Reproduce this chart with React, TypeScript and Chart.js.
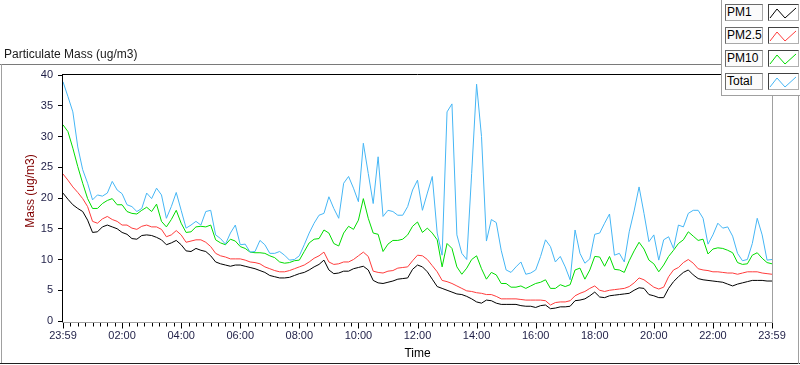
import React, { useEffect, useRef } from "react";
import { Chart, registerables } from "chart.js";

Chart.register(...registerables);

// ---- data (one sample every 10 minutes from 23:59) ----
const STEP_MIN = 10;

const pm1 = [
  20.8, 19.8, 18.9, 18.3, 17.8, 16.4, 14.4, 14.5, 15.3, 15.6,
  15.3, 15.0, 14.4, 14.1, 13.4, 13.3, 13.9, 14.0, 13.9, 13.6,
  13.2, 12.4, 12.7, 13.1, 12.4, 11.4, 11.3, 11.8, 11.5, 11.3,
  10.6, 9.6, 9.3, 9.1, 8.9, 9.1, 9.1, 8.9, 8.7, 8.5,
  8.2, 7.9, 7.4, 7.2, 7.0, 7.0, 7.1, 7.4, 7.7, 7.9,
  8.3, 8.8, 9.2, 9.9, 8.3, 7.7, 7.8, 8.1, 8.1, 8.5,
  8.7, 8.9, 8.3, 6.6, 6.2, 6.1, 6.3, 6.5, 6.8, 6.9,
  7.0, 8.4, 9.1, 8.8, 8.0, 6.8, 5.6, 5.3, 5.0, 4.7,
  4.4, 4.3, 4.0, 3.6, 3.1, 2.9, 3.4, 3.3, 2.9, 2.7,
  2.7, 2.7, 2.7, 2.5, 2.4, 2.4, 2.2, 2.5, 2.6, 2.0,
  2.1, 2.3, 2.3, 2.4, 3.3, 3.4, 3.6, 4.1, 4.7, 3.9,
  3.8, 4.1, 4.2, 4.3, 4.4, 4.5, 5.0, 5.4, 5.3, 4.3,
  4.1, 3.8, 3.8, 5.3, 6.4, 7.2, 7.9, 8.3, 7.5, 6.9,
  6.7, 6.6, 6.5, 6.4, 6.3, 6.0, 5.7, 6.0, 6.2, 6.4,
  6.6, 6.6, 6.6, 6.5, 6.5,
];

const pm25 = [
  23.9, 22.9, 21.8, 20.9, 19.9, 18.6, 16.2, 15.9, 16.6, 17.0,
  16.5, 16.2, 15.6, 15.6, 15.1, 14.9, 15.4, 15.6, 15.3, 15.3,
  14.9, 13.7, 14.0, 14.7, 14.0, 12.8, 13.0, 13.2, 13.2, 12.8,
  12.1, 11.0, 10.6, 10.4, 10.1, 10.1, 10.1, 9.9, 9.6, 9.5,
  9.3, 8.8, 8.5, 8.2, 8.0, 8.0, 8.2, 8.5, 8.8, 9.1,
  9.6, 10.2, 10.6, 11.2, 9.6, 9.2, 9.3, 9.6, 9.6, 10.0,
  10.6, 11.2, 10.5, 8.1, 7.9, 7.8, 8.1, 8.2, 8.6, 8.7,
  8.8, 9.8, 10.7, 10.6, 10.0, 9.0, 8.0, 6.6, 6.4, 6.1,
  5.7, 5.3, 4.9, 4.8, 4.6, 4.5, 4.3, 4.3, 4.0, 3.6,
  3.6, 3.6, 3.6, 3.5, 3.4, 3.4, 3.4, 3.4, 3.3, 2.6,
  3.0, 3.1, 3.1, 3.3, 4.1, 4.5, 4.8, 5.3, 5.7, 5.0,
  4.8, 5.0, 5.1, 5.2, 5.3, 5.6, 6.2, 7.0, 6.7, 6.1,
  5.5, 5.2, 5.5, 7.2, 8.3, 8.7, 9.5, 10.0, 9.4, 8.5,
  8.3, 8.2, 8.0, 8.0, 7.9, 7.8, 7.8, 7.6, 7.8, 8.0,
  8.0, 8.0, 7.8, 7.7, 7.6,
];

const pm10 = [
  31.9, 30.8, 28.1, 25.1, 22.4, 19.9, 18.3, 18.3, 19.1, 19.6,
  19.9, 18.9, 18.9, 17.8, 17.5, 17.4, 18.0, 18.5, 17.8, 19.0,
  16.2, 15.3, 16.5, 18.0, 15.9, 14.4, 14.5, 15.3, 15.4, 15.3,
  15.6, 13.2, 12.7, 12.4, 13.3, 13.0, 12.1, 11.8, 11.2, 11.1,
  11.1, 11.0, 10.6, 10.3, 9.6, 9.4, 9.5, 9.8, 9.9, 11.3,
  12.7, 13.3, 13.4, 14.8, 14.3, 12.6, 12.2, 14.3, 15.4, 14.9,
  16.4, 19.9, 16.7, 14.3, 14.1, 11.3, 12.5, 13.1, 13.1, 13.3,
  14.0, 15.4, 16.1, 14.4, 15.1, 14.3, 13.2, 8.8, 12.6, 11.8,
  8.8, 7.6, 8.6, 10.0, 10.6, 8.5, 6.8, 7.9, 7.5, 6.1,
  6.1, 5.5, 5.5, 5.7, 5.3, 5.7, 6.1, 6.3, 6.7, 5.3,
  5.3, 5.9, 5.6, 5.9, 8.3, 8.6, 6.8, 8.3, 10.5, 10.4,
  8.9, 10.5, 8.4, 8.3, 7.9, 9.8, 11.4, 12.8, 11.7, 9.9,
  9.3, 8.0, 9.1, 10.5, 11.5, 12.6, 13.2, 14.5, 13.8, 13.1,
  13.3, 10.9, 11.7, 11.9, 11.8, 11.5, 11.1, 9.5, 9.2, 9.3,
  10.7, 11.1, 10.2, 9.5, 9.3,
];

const total = [
  38.9, 36.5, 34.0, 28.3, 24.6, 22.4, 19.7, 20.5, 20.3, 20.8,
  22.7, 21.3, 20.7, 18.9, 18.6, 17.8, 18.3, 20.8, 19.9, 21.6,
  20.5, 16.7, 18.6, 20.9, 18.0, 15.1, 15.6, 16.2, 15.6, 17.8,
  18.0, 14.0, 13.4, 12.5, 14.3, 15.6, 12.4, 12.5, 11.2, 11.3,
  13.1, 12.4, 11.0, 11.0, 11.3, 10.7, 9.9, 10.0, 10.6, 12.4,
  14.3, 15.9, 17.2, 17.5, 20.2, 18.3, 16.7, 22.4, 23.5, 21.6,
  19.4, 28.9, 24.0, 19.1, 26.7, 17.0, 18.0, 17.8, 17.2, 17.2,
  18.6, 21.3, 22.9, 18.0, 20.8, 23.5, 14.3, 10.7, 34.0, 35.3,
  14.0, 11.0, 10.0, 24.0, 38.5, 30.0, 13.0, 16.5, 16.0, 11.5,
  8.3, 7.9, 8.8, 9.6, 7.6, 7.8, 8.3, 10.5, 13.2, 12.1,
  9.6, 10.5, 8.8, 6.7, 14.8, 11.0, 9.4, 10.1, 14.1, 14.3,
  15.9, 17.4, 10.7, 11.0, 9.6, 14.5, 17.9, 21.8, 17.5, 12.9,
  14.0, 9.9, 13.2, 13.7, 11.8, 15.6, 15.3, 17.5, 18.0, 18.0,
  16.7, 12.5, 14.0, 15.9, 15.1, 15.3, 13.8, 11.0, 9.8, 10.0,
  12.6, 16.7, 14.0, 9.9, 10.0,
];

const minutes = total.map((_, i) => i * STEP_MIN);

const tickMinutes = [0, 120, 240, 360, 480, 600, 720, 840, 960, 1080, 1200, 1320, 1440];
const tickLabels = [
  "23:59", "02:00", "04:00", "06:00", "08:00", "10:00", "12:00",
  "14:00", "16:00", "18:00", "20:00", "22:00", "23:59",
];
const MINOR_PER_MAJOR = 8;

const seriesNames = ["PM1", "PM2.5", "PM10", "Total"];
const seriesColors = ["#000000", "#ff3c3c", "#00dc00", "#45b6f5"];
const seriesValues = [pm1, pm25, pm10, total];

const FONT = "'Liberation Sans', Arial, sans-serif";
const TICK_COLOR = "#1e1e46";

function hline(ctx: CanvasRenderingContext2D, x1: number, x2: number, y: number, color: string) {
  ctx.strokeStyle = color;
  ctx.beginPath();
  ctx.moveTo(x1, y);
  ctx.lineTo(x2, y);
  ctx.stroke();
}
function vline(ctx: CanvasRenderingContext2D, x: number, y1: number, y2: number, color: string) {
  ctx.strokeStyle = color;
  ctx.beginPath();
  ctx.moveTo(x, y1);
  ctx.lineTo(x, y2);
  ctx.stroke();
}

const framePlugin = {
  id: "labviewFrame",
  afterDraw(chart: any) {
    const { ctx, chartArea: a, scales } = chart;
    ctx.save();
    ctx.lineWidth = 1;
    // outer panel frame
    hline(ctx, 0, 722, 64.5, "#7a7a7a");
    vline(ctx, 1.5, 64, 364, "#a0a0a0");
    hline(ctx, 0, 800, 363.5, "#202020");
    vline(ctx, 798.5, 95, 364, "#a0a0a0");
    // plot frame (sunken look)
    const L = Math.round(a.left) - 0.5;
    const R = Math.round(a.right) + 0.5;
    const T = Math.round(a.top) - 0.5;
    const B = Math.round(a.bottom) + 1.5;
    hline(ctx, L - 0.5, R + 0.5, T, "#000000");
    vline(ctx, L, T - 0.5, B + 0.5, "#000000");
    vline(ctx, R, T - 0.5, B + 0.5, "#a0a0a0");
    hline(ctx, L - 0.5, R + 0.5, B, "#a0a0a0");
    // x-axis ticks: major every 2 h, minor every 15 min
    const xs = scales.x;
    for (let k = 0; k < tickMinutes.length; k++) {
      const px = Math.round(xs.getPixelForValue(tickMinutes[k])) + 0.5;
      vline(ctx, px, B + 0.5, B + 6, "#000000");
      if (k < tickMinutes.length - 1) {
        const span = tickMinutes[k + 1] - tickMinutes[k];
        for (let j = 1; j < MINOR_PER_MAJOR; j++) {
          const mx = Math.round(xs.getPixelForValue(tickMinutes[k] + (span * j) / MINOR_PER_MAJOR)) + 0.5;
          vline(ctx, mx, B + 0.5, B + 4, "#000000");
        }
      }
    }
    ctx.restore();
  },
};

export default function App() {
  const canvasRef = useRef<HTMLCanvasElement | null>(null);

  useEffect(() => {
    document.body.style.margin = "0";
    const canvas = canvasRef.current;
    if (!canvas) return;
    const order = [3, 2, 1, 0];
    const chart = new Chart(canvas, {
      type: "line",
      data: {
        datasets: seriesNames.map((name, s) => ({
          label: name,
          data: minutes.map((m, i) => ({ x: m, y: seriesValues[s][i] })),
          borderColor: seriesColors[s],
          backgroundColor: seriesColors[s],
          borderWidth: 1,
          pointRadius: 0,
          tension: 0,
          fill: false,
          order: order[s],
        })),
      },
      options: {
        animation: false,
        responsive: false,
        events: [],
        layout: { padding: { left: 0, top: 75, right: 28, bottom: 0 } },
        plugins: {
          legend: { display: false },
          tooltip: { enabled: false },
          title: { display: false },
        },
        scales: {
          x: {
            type: "linear",
            min: 0,
            max: 1440,
            afterFit: (s: any) => {
              s.height = 44;
            },
            afterBuildTicks: (s: any) => {
              s.ticks = tickMinutes.map((v) => ({ value: v }));
            },
            grid: { display: false, drawTicks: false },
            border: { display: false },
            ticks: {
              autoSkip: false,
              maxRotation: 0,
              padding: 8,
              color: TICK_COLOR,
              font: { family: FONT, size: 11 },
              callback: (_v: any, i: number) => tickLabels[i],
            },
            title: {
              display: true,
              text: "Time",
              color: "#000000",
              font: { family: FONT, size: 12 },
              padding: { top: 0, bottom: 4 },
            },
          },
          y: {
            min: 0,
            max: 40,
            afterFit: (s: any) => {
              s.width = 63;
            },
            ticks: {
              stepSize: 5,
              padding: 5,
              color: TICK_COLOR,
              font: { family: FONT, size: 11 },
            },
            grid: { drawOnChartArea: false, drawTicks: true, tickLength: 5, color: "#000000" },
            border: { display: false },
            title: { display: false },
          },
        },
      },
      plugins: [framePlugin],
    });
    return () => chart.destroy();
  }, []);

  return (
    <div
      style={{
        position: "relative",
        width: 800,
        height: 365,
        background: "#ffffff",
        fontFamily: FONT,
        overflow: "hidden",
      }}
    >
      <canvas
        ref={canvasRef}
        width={800}
        height={365}
        style={{ position: "absolute", left: 0, top: 0, width: 800, height: 365 }}
      />
      <div
        style={{
          position: "absolute",
          left: 4,
          top: 47,
          fontSize: 12,
          lineHeight: "14px",
          color: "#1a1a1a",
          whiteSpace: "nowrap",
        }}
      >
        Particulate Mass (ug/m3)
      </div>
      <div
        style={{
          position: "absolute",
          left: -20,
          top: 184,
          width: 100,
          height: 14,
          fontSize: 12,
          lineHeight: "14px",
          color: "#800000",
          textAlign: "center",
          whiteSpace: "nowrap",
          transform: "rotate(-90deg)",
          transformOrigin: "50% 50%",
        }}
      >
        Mass (ug/m3)
      </div>
      <div
        style={{
          position: "absolute",
          left: 721,
          top: 0,
          width: 79,
          height: 95,
          borderLeft: "1px solid #a0a0a0",
          borderBottom: "1px solid #a0a0a0",
          background: "#ffffff",
        }}
      >
        {seriesNames.map((name, i) => (
          <React.Fragment key={name}>
            <div
              style={{
                position: "absolute",
                left: 3,
                top: 4 + i * 23,
                width: 35,
                height: 15,
                border: "1px solid #a8a8a8",
                borderTopColor: "#6a6a6a",
                borderLeftColor: "#6a6a6a",
                background: "#fbfbfb",
                fontSize: 12,
                lineHeight: "15px",
                paddingLeft: 1,
                color: "#000000",
                whiteSpace: "nowrap",
              }}
            >
              {name}
            </div>
            <div
              style={{
                position: "absolute",
                left: 46,
                top: 4 + i * 23,
                width: 29,
                height: 15,
                border: "1px solid #b0b0b0",
                borderTopColor: "#404040",
                borderLeftColor: "#404040",
                background: "#ffffff",
              }}
            >
              <svg width={29} height={15} style={{ display: "block" }}>
                <polyline
                  points="1,13 8,4 16,13 27,3"
                  fill="none"
                  stroke={seriesColors[i]}
                  strokeWidth={1}
                />
              </svg>
            </div>
          </React.Fragment>
        ))}
      </div>
    </div>
  );
}
